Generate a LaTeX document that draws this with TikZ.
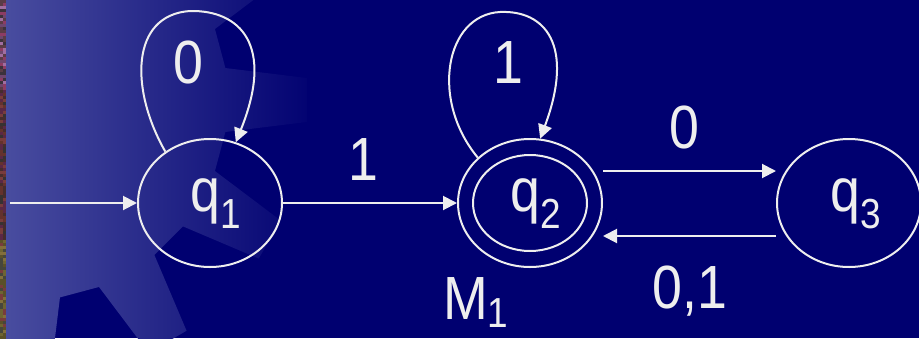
\documentclass[tikz,border=0pt]{standalone}
\usepackage{fontspec}
\setmainfont[FakeStretch=0.88]{Liberation Sans}
\usetikzlibrary{arrows.meta,shapes.geometric}
\definecolor{navybg}{RGB}{0,0,112}
\definecolor{lightbg}{RGB}{74,78,160}
\definecolor{ink}{RGB}{238,238,238}
% noisy strip colours
\definecolor{s00}{RGB}{160,110,160}\definecolor{s01}{RGB}{110,70,110}\definecolor{s02}{RGB}{90,60,70}
\definecolor{s03}{RGB}{60,50,60}\definecolor{s04}{RGB}{140,60,100}
\definecolor{s10}{RGB}{100,50,45}\definecolor{s11}{RGB}{70,45,45}\definecolor{s12}{RGB}{55,50,50}
\definecolor{s13}{RGB}{120,60,60}\definecolor{s14}{RGB}{90,40,70}
\definecolor{s20}{RGB}{110,100,50}\definecolor{s21}{RGB}{90,80,40}\definecolor{s22}{RGB}{120,60,60}
\definecolor{s23}{RGB}{70,70,60}\definecolor{s24}{RGB}{130,110,60}
\newcommand{\mysub}[2][17pt]{\raisebox{-#1}{\fontsize{42}{42}\selectfont #2}}
\begin{document}
\begin{tikzpicture}[x=1pt,y=-1pt,
  state/.style={draw=ink, line width=2pt, ellipse, minimum width=144pt, minimum height=128pt, inner sep=0pt},
  lbl/.style={text=ink, inner sep=0pt, font=\fontsize{61}{70}\selectfont},
  trans/.style={draw=ink, line width=2pt, -{Triangle[length=14pt,width=14pt]}}]
\useasboundingbox (0,0) rectangle (919,338);
% background
\fill[navybg] (0,0) rectangle (919,338);
\begin{scope}
  \clip[shift={(28,100)}] (-9.2:200) \foreach \a in {0,30,...,330} { -- ({\a-9.2}:200) -- ({\a-4.5}:280) -- ({\a+4.5}:280) -- ({\a+9.2}:200) } -- cycle;
  \shade[left color=lightbg, right color=navybg] (0,0) rectangle (320,338);
\end{scope}
% noisy left strip
\pgfmathsetseed{7}
\foreach \yy in {0,3,...,336} {
  \foreach \xx in {0,3} {
    \pgfmathtruncatemacro\z{\yy<90 ? 0 : (\yy<240 ? 1 : 2)}
    \pgfmathrandominteger{\r}{0}{4}
    \fill[s\z\r] (\xx,\yy) rectangle ++(3,3);
  }
}
% states
\node[state] (q1) at (210,203) {};
\node[state] (q2) at (530,203) {};
\node[state] (q3) at (849,203) {};
\draw[ink, line width=2pt] (q2.center) ellipse [x radius=57, y radius=48];
\node[lbl, anchor=base west] (t1) at (190,211) {q\mysub{1}};
\node[lbl, anchor=base west] (t2) at (510,211) {q\mysub{2}};
\node[lbl, anchor=base west] (t3) at (830,211) {q\mysub{3}};
% transitions
\coordinate (start) at (10,203);
\draw[trans] (start) -- (q1);
\draw[trans] (q1) -- (q2);
\draw[trans] ([yshift=32pt]q2.east) -- ([yshift=32pt]q3.west);
\draw[trans] ([yshift=-33pt]q3.west) -- ([yshift=-33pt]q2.east);
\draw[trans] (q1.131) .. controls (130,90) and (130,15) .. (190,11) .. controls (240,10) and (275,45) .. (q1.67);
\draw[trans] (q2.139) .. controls (430,100) and (445,15) .. (500,12) .. controls (545,10) and (575,45) .. (q2.81);
% labels
\node[lbl, anchor=base] (l0) at (188,83) {0};
\node[lbl, anchor=base] (l1) at (508,83) {1};
\node[lbl, anchor=base] (l12) at (363,180) {1};
\node[lbl, anchor=base] (l23) at (684,148) {0};
\node[lbl, anchor=base] (l32) at (690,308) {0,1};
\node[lbl, anchor=base west] (m) at (443,319) {M\mysub[8pt]{1}};
\end{tikzpicture}
\end{document}
